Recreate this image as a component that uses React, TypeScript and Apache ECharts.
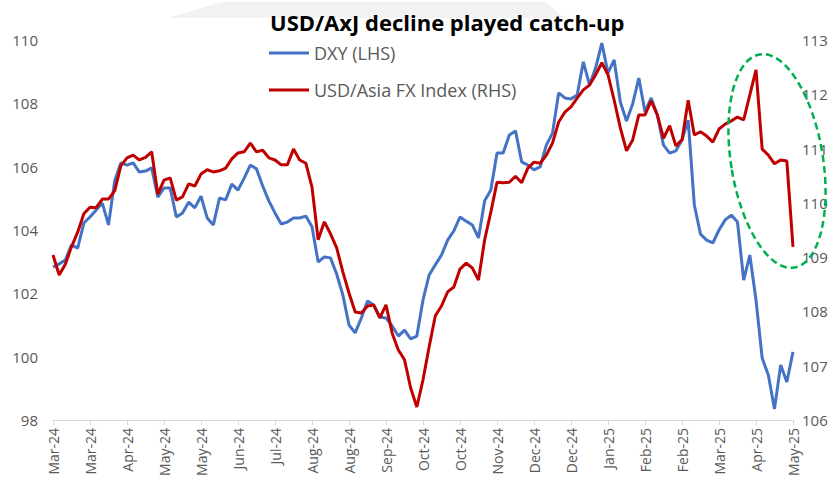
import React, { useEffect, useRef } from 'react';
import * as echarts from 'echarts';

const titleText = 'USD/AxJ decline played catch-up';
const seriesNames = ['DXY (LHS)', 'USD/Asia FX Index (RHS)'];

const tickLabels = [
  'Mar-24', 'Mar-24', 'Apr-24', 'May-24', 'May-24', 'Jun-24', 'Jul-24', 'Aug-24', 'Aug-24', 'Sep-24',
  'Oct-24', 'Oct-24', 'Nov-24', 'Dec-24', 'Dec-24', 'Jan-25', 'Feb-25', 'Feb-25', 'Mar-25', 'Apr-25', 'May-25',
];
const POINTS_PER_TICK = 6;

const dxy = [
  102.83, 102.93, 103.05, 103.53, 103.43, 104.22, 104.41, 104.63, 104.85, 104.16,
  105.55, 106.12, 106.05, 106.12, 105.83, 105.86, 105.96, 105.04, 105.33, 105.33,
  104.41, 104.54, 104.88, 104.70, 105.07, 104.38, 104.16, 105.01, 104.95, 105.45,
  105.26, 105.64, 106.05, 105.93, 105.39, 104.92, 104.54, 104.19, 104.25, 104.38,
  104.38, 104.44, 104.10, 102.99, 103.15, 103.12, 102.61, 101.95, 101.00, 100.75,
  101.22, 101.76, 101.63, 101.25, 101.22, 100.97, 100.65, 100.84, 100.56, 100.65,
  101.79, 102.58, 102.90, 103.21, 103.68, 103.97, 104.41, 104.28, 104.16, 103.75,
  104.92, 105.26, 106.43, 106.43, 107.00, 107.13, 106.15, 106.05, 105.90, 105.99,
  106.68, 107.06, 108.33, 108.17, 108.14, 108.26, 109.31, 108.58, 109.12, 109.90,
  108.96, 109.37, 108.04, 107.44, 107.98, 108.80, 107.73, 108.17, 107.63, 106.68,
  106.43, 106.50, 106.84, 107.47, 104.79, 103.87, 103.68, 103.59, 104.00, 104.32,
  104.47, 104.25, 102.42, 103.21, 101.79, 99.96, 99.42, 98.35, 99.74, 99.20,
  100.15,
];

const usdAsia = [
  109.04, 108.67, 108.87, 109.19, 109.46, 109.80, 109.92, 109.91, 110.07, 110.07,
  110.22, 110.68, 110.83, 110.88, 110.79, 110.84, 110.94, 110.16, 110.42, 110.46,
  110.05, 110.11, 110.35, 110.31, 110.53, 110.61, 110.57, 110.59, 110.64, 110.81,
  110.92, 110.94, 111.10, 110.94, 110.97, 110.83, 110.79, 110.70, 110.70, 110.99,
  110.79, 110.73, 110.29, 109.32, 109.65, 109.43, 109.17, 108.73, 108.34, 107.99,
  107.97, 108.10, 108.12, 107.88, 108.12, 107.60, 107.29, 107.11, 106.59, 106.24,
  106.74, 107.35, 107.92, 108.10, 108.36, 108.45, 108.78, 108.89, 108.80, 108.58,
  109.32, 109.83, 110.38, 110.37, 110.38, 110.49, 110.37, 110.64, 110.75, 110.73,
  110.88, 111.10, 111.49, 111.67, 111.77, 111.93, 112.08, 112.17, 112.36, 112.58,
  112.36, 111.89, 111.38, 110.96, 111.16, 111.62, 111.62, 111.88, 111.62, 111.19,
  111.42, 111.05, 111.16, 111.89, 111.25, 111.31, 111.23, 111.12, 111.36, 111.45,
  111.51, 111.58, 111.53, 111.99, 112.45, 110.99, 110.88, 110.72, 110.79, 110.77,
  109.19,
];

const leftAxis = { min: 98, max: 110, interval: 2 };
const rightAxis = { min: 106, max: 113, interval: 1 };

export default function App() {
  const ref = useRef<HTMLDivElement>(null);

  useEffect(() => {
    if (!ref.current) return;
    const chart = echarts.init(ref.current, undefined, { renderer: 'svg' });
    const categories = dxy.map((_, i) =>
      i % POINTS_PER_TICK === 0 ? tickLabels[i / POINTS_PER_TICK] : ''
    );
    const font = "'Open Sans', sans-serif";
    chart.setOption({
      animation: false,
      backgroundColor: '#ffffff',
      title: {
        text: titleText,
        left: 265,
        top: 6,
        textStyle: { fontSize: 22, fontWeight: 'bold', color: '#000000', fontFamily: font },
      },
      legend: {
        data: seriesNames,
        orient: 'vertical',
        left: 264,
        top: 39,
        itemGap: 19,
        itemWidth: 40,
        itemHeight: 3,
        icon: 'rect',
        textStyle: { color: '#595959', fontSize: 18, fontFamily: font },
      },
      grid: { left: 53, right: 46, top: 40, bottom: 59, containLabel: false },
      xAxis: {
        type: 'category',
        boundaryGap: false,
        data: categories,
        axisLine: { show: true, lineStyle: { color: '#d9d9d9', width: 1 } },
        axisTick: {
          show: true,
          interval: POINTS_PER_TICK - 1,
          length: 5,
          lineStyle: { color: '#d9d9d9' },
        },
        axisLabel: {
          interval: POINTS_PER_TICK - 1,
          rotate: 90,
          color: '#595959',
          fontSize: 14,
          fontFamily: font,
          margin: 8,
        },
        splitLine: { show: false },
      },
      yAxis: [
        {
          type: 'value',
          position: 'left',
          min: leftAxis.min,
          max: leftAxis.max,
          interval: leftAxis.interval,
          axisLine: { show: false },
          axisTick: { show: false },
          splitLine: { show: false },
          axisLabel: { color: '#595959', fontSize: 15, fontFamily: font, margin: 15 },
        },
        {
          type: 'value',
          position: 'right',
          min: rightAxis.min,
          max: rightAxis.max,
          interval: rightAxis.interval,
          axisLine: { show: false },
          axisTick: { show: false },
          splitLine: { show: false },
          axisLabel: { color: '#595959', fontSize: 15, fontFamily: font, margin: 9 },
        },
      ],
      series: [
        {
          name: seriesNames[0],
          type: 'line',
          yAxisIndex: 0,
          data: dxy,
          symbol: 'none',
          itemStyle: { color: '#4472C4' },
          lineStyle: { color: '#4472C4', width: 3 },
          z: 2,
        },
        {
          name: seriesNames[1],
          type: 'line',
          yAxisIndex: 1,
          data: usdAsia,
          symbol: 'none',
          itemStyle: { color: '#C00000' },
          lineStyle: { color: '#C00000', width: 3 },
          z: 3,
        },
      ],
      graphic: [
        {
          type: 'polygon',
          z: -1,
          shape: { points: [[167, 18], [222, 2], [545, 2], [565, 18]] },
          style: { fill: '#f2f2f2' },
          silent: true,
        },
        {
          type: 'ellipse',
          x: 777,
          y: 161,
          rotation: 0.16,
          shape: { cx: 0, cy: 0, rx: 46, ry: 108 },
          style: { fill: 'none', stroke: '#00B050', lineWidth: 2.5, lineDash: [7, 4] },
          silent: true,
          z: 10,
        },
      ],
    });
    return () => chart.dispose();
  }, []);

  return (
    <div
      ref={ref}
      style={{ position: 'fixed', left: 0, top: 0, width: 839, height: 479 }}
    />
  );
}
